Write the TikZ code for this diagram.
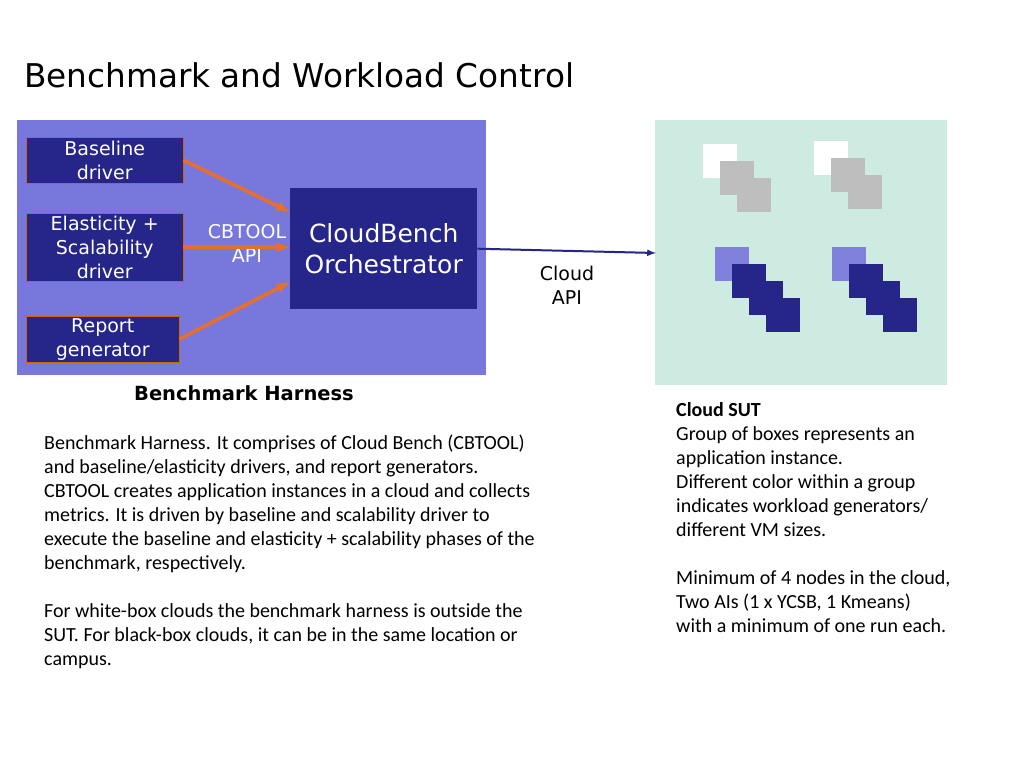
\documentclass[tikz,border=0pt]{standalone}
\usepackage{fontspec}
\setmainfont{Carlito}
\newfontfamily\vfont{DejaVu Sans}
\begin{document}
\begin{tikzpicture}[x=1pt,y=-1pt,
  drv/.style={draw=orange!80!black,fill=navyc,text=white,font=\vfont\fontsize{19}{24}\selectfont,align=center,inner sep=0pt,anchor=north west},
  sq/.style={minimum size=34pt,inner sep=0pt,anchor=north west},
  oarr/.style={draw=arrc,line width=3.5pt,-latex},
  para/.style={anchor=north west,align=left,font=\fontsize{20}{24}\selectfont,inner sep=0pt}]
\definecolor{navyc}{HTML}{25258A}
\definecolor{harn}{HTML}{7878DC}
\definecolor{arrc}{HTML}{EA6E28}
\definecolor{sut}{HTML}{CDEBE0}
\definecolor{lightb}{HTML}{8080DD}
\definecolor{greyc}{HTML}{BEBEBE}
\useasboundingbox (0,0) rectangle (1024,768);
\fill[white] (0,0) rectangle (1024,768);
\node[anchor=base west,inner sep=0pt,font=\vfont\fontsize{32.7}{36}\selectfont] (title) at (24,87) {Benchmark and Workload Control};
\fill[harn] (17,120) rectangle (486,375);
\node[drv,minimum width=157pt,minimum height=46pt] (bd) at (26,137) {Baseline\\driver};
\node[drv,minimum width=157pt,minimum height=68pt] (ed) at (26,213) {Elasticity +\\Scalability\\driver};
\node[drv,minimum width=153pt,minimum height=46pt] (rg) at (26,316) {Report\\generator};
\node[fill=navyc,text=white,anchor=north west,minimum width=187pt,minimum height=121pt,inner sep=0pt,align=center,font=\vfont\fontsize{25}{31}\selectfont] (orch) at (290,188) {CloudBench\\Orchestrator};
\node[text=white,align=center,inner sep=0pt,font=\vfont\fontsize{19}{24}\selectfont] (cb) at (247,243) {CBTOOL\\API};
\coordinate (o1) at (290,212);
\coordinate (o3) at (290,282);
\draw[oarr] (bd.east) -- (o1);
\draw[oarr] (ed.east) -- (ed.east -| orch.west);
\draw[oarr] (rg.east) -- (o3);
\node[font=\vfont\fontsize{19}{24}\selectfont,align=center,inner sep=0pt] (capi) at (567,285) {Cloud\\API};
\node[font=\vfont\bfseries\fontsize{19.5}{20}\selectfont] (bh) at (244,393) {Benchmark Harness};
\fill[sut] (655,120) rectangle (947,385);
\coordinate (sutin) at (656,253);
\draw[navyc,line width=2pt,-latex] (orch.east) -- (sutin);
\foreach \x/\y in {703/144,814/141}{
  \node[sq,fill=white] at (\x,\y) {};
  \node[sq,fill=greyc] at (\x+17,\y+17) {};
  \node[sq,fill=greyc] at (\x+34,\y+34) {};}
\foreach \x in {715,832}{
  \node[sq,fill=lightb] at (\x,247) {};
  \node[sq,fill=navyc] at (\x+17,264) {};
  \node[sq,fill=navyc] at (\x+34,281) {};
  \node[sq,fill=navyc] at (\x+51,298) {};}
\node[para] (lt) at (44,435) {Benchmark Harness. It comprises of Cloud Bench (CBTOOL)\\and baseline/elasticity drivers, and report generators.\\CBTOOL creates application instances in a cloud and collects\\metrics. It is driven by baseline and scalability driver to\\execute the baseline and elasticity + scalability phases of the\\benchmark, respectively.\\[24pt]For white-box clouds the benchmark harness is outside the\\SUT. For black-box clouds, it can be in the same location or\\campus.};
\node[para] (rt) at (676,402) {\textbf{Cloud SUT}\\Group of boxes represents an\\application instance.\\Different color within a group\\indicates workload generators/\\different VM sizes.\\[24pt]Minimum of 4 nodes in the cloud,\\Two AIs (1 x YCSB, 1 Kmeans)\\with a minimum of one run each.};
\end{tikzpicture}
\end{document}
